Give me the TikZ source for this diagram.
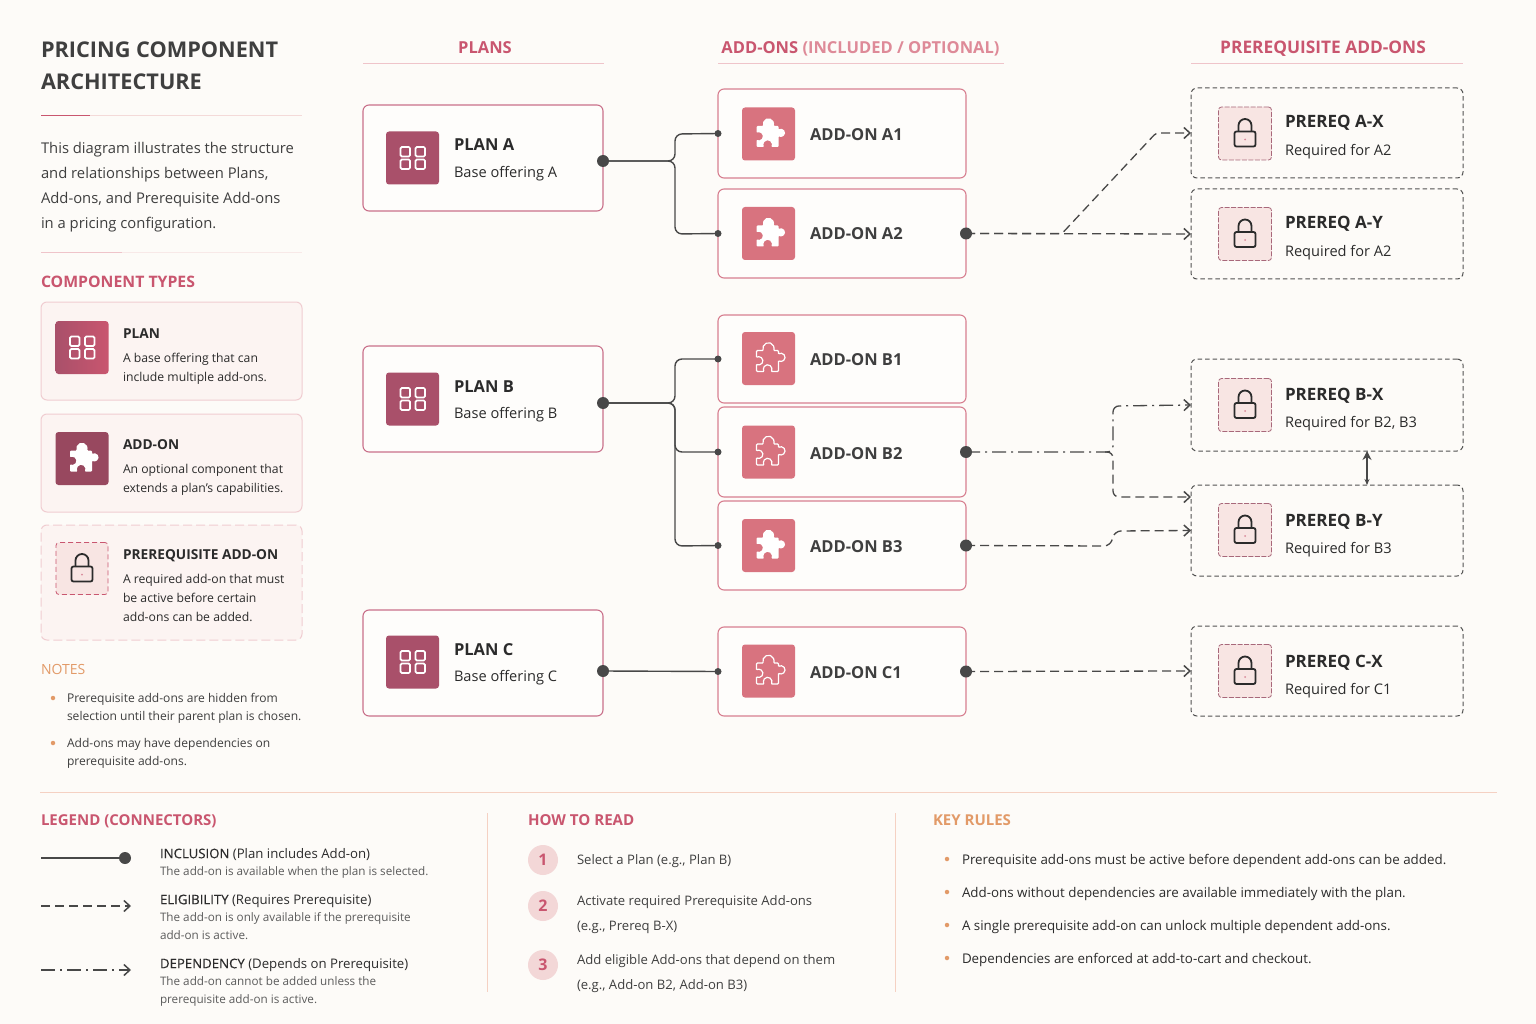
\documentclass[tikz,border=0pt]{standalone}
\usepackage{fontspec}
\setmainfont{Open Sans}
\newfontfamily\medf[FakeBold=0.25]{Open Sans}
\usetikzlibrary{arrows.meta,calc}
\definecolor{bgc}{HTML}{FDFBF8}
\definecolor{rose}{HTML}{C9566F}
\definecolor{roselt}{HTML}{DE8A98}
\definecolor{orangec}{HTML}{E29A68}
\definecolor{ink}{HTML}{2B2B2B}
\definecolor{inkb}{HTML}{3F3F3F}
\definecolor{greyt}{HTML}{5C5C5C}
\definecolor{line}{HTML}{484848}
\definecolor{planb}{HTML}{C9708A}
\definecolor{addb}{HTML}{D77F90}
\definecolor{cardf}{HTML}{FCF4F2}
\definecolor{cardb}{HTML}{F0CDD1}
\definecolor{plani}{HTML}{A9506A}
\definecolor{addi}{HTML}{D8737F}
\definecolor{prei}{HTML}{F8E5E3}
\definecolor{preb}{HTML}{A8687A}
\definecolor{rulelt}{HTML}{F4DAD9}
\definecolor{ruleh}{HTML}{EFC4CA}
\newcommand{\fs}[2]{\fontsize{#1}{#2}\selectfont}
\newcommand{\bx}[6]{\pgfmathsetmacro{\bw}{#5-#3}\pgfmathsetmacro{\bh}{#6-#4}\pgfmathsetmacro{\bcx}{(#5+#3)/2}\pgfmathsetmacro{\bcy}{(#6+#4)/2}\node[#1,minimum width=\bw pt,minimum height=\bh pt] (#2) at (\bcx,\bcy) {};}
\newcommand{\tx}[5]{\node[tbase,#2] (#1) at (#3,#4) {#5};}
\newcommand{\puzzlepath}{(-12,8) -- (-5,8) arc (205:-25:5.5) -- (10,8) -- (10,4.2) arc (130:-130:4) -- (10,-13) -- (2.5,-13) arc (-37:217:4.2) -- (-12,-13) -- (-12,-5.5) arc (-127:127:4) -- cycle}
\tikzset{
 tbase/.style={anchor=west,inner sep=0pt,outer sep=0pt,align=left,yshift=-3pt,execute at begin node=\strut,execute at end node=\strut},
 anybox/.style={rounded corners=6pt,inner sep=0pt,outer sep=0pt},
 planbox/.style={anybox,draw=planb,line width=1.1pt,fill=bgc!60!white},
 addbox/.style={anybox,draw=addb,line width=1.1pt,fill=bgc!60!white},
 prebox/.style={anybox,draw=line!95,line width=1pt,dash pattern=on 4.5pt off 3pt,fill=bgc},
 cardbox/.style={anybox,draw=cardb,line width=1pt,fill=cardf},
 carddash/.style={anybox,draw=cardb,line width=1pt,fill=cardf,dash pattern=on 9pt off 4pt},
 iconplan/.style={rounded corners=3pt,inner sep=0pt,minimum size=53pt,fill=plani},
 iconadd/.style={rounded corners=3pt,inner sep=0pt,minimum size=53pt,fill=addi},
 iconpre/.style={rounded corners=3pt,inner sep=0pt,minimum size=53pt,fill=prei,draw=preb,line width=0.8pt,dash pattern=on 5pt off 1.5pt},
 iconprecard/.style={rounded corners=3pt,inner sep=0pt,minimum size=52pt,fill=prei,draw=rose,line width=0.8pt,dash pattern=on 5pt off 3pt},
 iconsideplan/.style={rounded corners=3pt,inner sep=0pt,minimum size=53pt,left color=plani,right color=rose},
 iconsideadd/.style={rounded corners=3pt,inner sep=0pt,minimum size=53pt,fill=plani!90!black},
 bigdot/.style={circle,fill=line,inner sep=0pt,minimum size=12pt,outer sep=0pt},
 smalldot/.style={circle,fill=line,inner sep=0pt,minimum size=7pt,outer sep=0pt},
 bullo/.style={circle,fill=orangec,inner sep=0pt,minimum size=4.5pt},
 numc/.style={circle,fill=prei!90!rose,inner sep=0pt,minimum size=30pt,text=rose,font=\fs{16}{19}\bfseries},
 incl/.style={draw=line,line width=1.4pt,rounded corners=7pt},
 elig/.style={draw=line,line width=1.3pt,rounded corners=6pt,dash pattern=on 9pt off 5pt,-{Straight Barb[length=6pt,width=11pt,line width=1.5pt]}},
 depd/.style={draw=line,line width=1.3pt,rounded corners=6pt,dash pattern=on 14pt off 5pt on 2pt off 5pt,-{Straight Barb[length=6pt,width=11pt,line width=1.5pt]}},
 ruleln/.style={line width=1pt},
 pics/gridicon/.style={code={\begin{scope}[x=1pt,y=1pt]
  \foreach \a/\b in {-12/1.5,3/1.5,-12/-11,3/-11}{\draw[white,line width=1.7pt,rounded corners=1.3pt] (\a,\b) rectangle ++(9.5,9.5);}
 \end{scope}}},
 pics/puzfill/.style={code={\begin{scope}[x=1pt,y=1pt]\fill[white,rounded corners=1pt] \puzzlepath;\end{scope}}},
 pics/puzline/.style={code={\begin{scope}[x=1pt,y=1pt]\draw[white,line width=1.2pt,rounded corners=1pt] \puzzlepath;\end{scope}}},
 pics/lockicon/.style={code={\begin{scope}[x=1pt,y=1pt]
  \draw[ink,line width=1.8pt] (-6.5,2) -- (-6.5,8) arc (180:0:6.5) -- (6.5,2);
  \draw[ink,line width=1.8pt,rounded corners=2pt] (-10.5,-13) rectangle (10.5,2);
  \fill[rose!70] (0,-6) circle (1pt);
 \end{scope}}},
 head/.style={font=\fs{16.5}{20}\bfseries,text=rose,anchor=center},
 sect/.style={font=\fs{15}{19}\bfseries,text=rose},
 sector/.style={font=\fs{15}{18}\bfseries,text=orangec},
 nameb/.style={font=\fs{17}{20}\bfseries,text=ink},
 subt/.style={font=\fs{14.6}{17},text=ink},
 addn/.style={font=\fs{16.5}{20}\bfseries,text=inkb},
 cardt/.style={font=\fs{13.7}{17}\bfseries,text=ink},
 cardd/.style={font=\fs{12.2}{19},text=ink},
 noted/.style={font=\fs{12.05}{18},text=inkb},
 legt/.style={font=\fs{13.2}{16},text=ink},
 legd/.style={font=\fs{11.7}{18},text=greyt},
 howt/.style={font=\fs{13.1}{25},text=inkb},
 rulet/.style={font=\fs{13.35}{17},text=ink},
}
\begin{document}
\begin{tikzpicture}[x=1pt,y=-1pt]
\useasboundingbox (0,0) rectangle (1536,1024);
\fill[bgc] (0,0) rectangle (1536,1024);
% left panel
\tx{title}{font=\fs{21.7}{32}\bfseries,text=inkb}{41}{67}{PRICING COMPONENT\\ARCHITECTURE}
\coordinate (ra) at (41,115.5); \coordinate (rb) at (90,115.5); \coordinate (rc) at (302,115.5);
\draw[rulelt,ruleln] (rb) -- (rc); \draw[rose,line width=1.4pt] (ra) -- (rb);
\tx{intro}{font=\fs{14.8}{25},text=inkb}{41}{186}{This diagram illustrates the structure\\and relationships between Plans,\\Add-ons, and Prerequisite Add-ons\\in a pricing configuration.}
\coordinate (rd) at (41,252.5); \coordinate (re) at (122,252.5); \coordinate (rf) at (302,252.5);
\draw[rulelt!60,ruleln] (re) -- (rf); \draw[ruleh,ruleln] (rd) -- (re);
\tx{ctypes}{font=\fs{15.8}{19}\bfseries,text=rose}{41}{281}{COMPONENT TYPES}
\bx{cardbox}{cardP}{41}{302}{302}{400}
\bx{cardbox}{cardA}{41}{414}{302}{512}
\bx{carddash}{cardR}{41}{525}{302}{640}
\node[iconsideplan] (icP) at (82,347.5) {}; \pic at (icP) {gridicon};
\node[iconsideadd] (icA) at (82,458.5) {}; \pic at (icA) {puzfill};
\node[iconprecard] (icR) at (82,568.5) {}; \pic at (icR) {lockicon};
\tx{cPt}{cardt}{123}{332}{PLAN}
\tx{cPd}{cardd}{123}{367}{A base offering that can\\include multiple add-ons.}
\tx{cAt}{cardt}{123}{443}{ADD-ON}
\tx{cAd}{cardd}{123}{478}{An optional component that\\extends a plan's capabilities.}
\tx{cRt}{cardt}{123}{553}{PREREQUISITE ADD-ON}
\tx{cRd}{cardd}{123}{598}{A required add-on that must\\be active before certain\\add-ons can be added.}
\tx{notes}{font=\fs{14}{17},text=orangec}{41}{668}{NOTES}
\node[bullo] (nb1) at (53,698) {}; \node[bullo] (nb2) at (53,743) {};
\tx{n1}{noted}{67}{707}{Prerequisite add-ons are hidden from\\selection until their parent plan is chosen.}
\tx{n2}{noted}{67}{752}{Add-ons may have dependencies on\\prerequisite add-ons.}
% column headers
\tx{hP}{head}{485}{47}{PLANS}
\tx{hA}{head}{860.5}{47}{ADD-ONS \textcolor{roselt}{(INCLUDED / OPTIONAL)}}
\tx{hR}{head,font=\fs{17.3}{20}\bfseries}{1323}{47}{PREREQUISITE ADD-ONS}
\coordinate (u1) at (363,64); \coordinate (u2) at (604,64); \coordinate (u3) at (718,64); \coordinate (u4) at (1004,64); \coordinate (u5) at (1191,64); \coordinate (u6) at (1463,64);
\draw[ruleh,ruleln] (u1) -- (u2); \draw[ruleh,ruleln] (u3) -- (u4); \draw[ruleh,ruleln] (u5) -- (u6);
% boxes
\bx{planbox}{planA}{363}{105}{603}{211}
\bx{planbox}{planB}{363}{346}{603}{452}
\bx{planbox}{planC}{363}{610}{603}{716}
\bx{addbox}{addA1}{718}{89}{966}{178}
\bx{addbox}{addA2}{718}{189}{966}{278}
\bx{addbox}{addB1}{718}{315}{966}{403}
\bx{addbox}{addB2}{718}{407}{966}{497}
\bx{addbox}{addB3}{718}{501}{966}{590}
\bx{addbox}{addC1}{718}{627}{966}{716}
\bx{prebox}{preAX}{1191}{88}{1463}{178}
\bx{prebox}{preAY}{1191}{189}{1463}{279}
\bx{prebox}{preBX}{1191}{359}{1463}{451}
\bx{prebox}{preBY}{1191}{485}{1463}{576}
\bx{prebox}{preCX}{1191}{626}{1463}{716}
% plan content
\node[iconplan] (iPA) at (412.5,158) {}; \pic at (iPA) {gridicon};
\node[iconplan] (iPB) at (412.5,399) {}; \pic at (iPB) {gridicon};
\node[iconplan] (iPC) at (412.5,662) {}; \pic at (iPC) {gridicon};
\tx{tPA}{nameb,font=\fs{16.5}{20}\bfseries}{454}{144}{PLAN A}\tx{sPA}{subt}{454}{171}{Base offering A}
\tx{tPB}{nameb,font=\fs{16.5}{20}\bfseries}{454}{385}{PLAN B}\tx{sPB}{subt}{454}{412}{Base offering B}
\tx{tPC}{nameb,font=\fs{16.5}{20}\bfseries}{454}{648}{PLAN C}\tx{sPC}{subt}{454}{675}{Base offering C}
% add-on content
\node[iconadd] (iA1) at (768.5,134) {}; \pic at (iA1) {puzfill};
\node[iconadd] (iA2) at (768.5,233.5) {}; \pic at (iA2) {puzfill};
\node[iconadd] (iB1) at (768.5,358.5) {}; \pic at (iB1) {puzline};
\node[iconadd] (iB2) at (768.5,452) {}; \pic at (iB2) {puzline};
\node[iconadd] (iB3) at (768.5,545.5) {}; \pic at (iB3) {puzfill};
\node[iconadd] (iC1) at (768.5,671) {}; \pic at (iC1) {puzline};
\tx{tA1}{addn}{810}{133.5}{ADD-ON A1}
\tx{tA2}{addn}{810}{233}{ADD-ON A2}
\tx{tB1}{addn}{810}{358}{ADD-ON B1}
\tx{tB2}{addn}{810}{452}{ADD-ON B2}
\tx{tB3}{addn}{810}{545.5}{ADD-ON B3}
\tx{tC1}{addn}{810}{671}{ADD-ON C1}
% prereq content
\node[iconpre] (iAX) at (1245,133.5) {}; \pic at (iAX) {lockicon};
\node[iconpre] (iAY) at (1245,234) {}; \pic at (iAY) {lockicon};
\node[iconpre] (iBX) at (1245,405) {}; \pic at (iBX) {lockicon};
\node[iconpre] (iBY) at (1245,530) {}; \pic at (iBY) {lockicon};
\node[iconpre] (iCX) at (1245,671) {}; \pic at (iCX) {lockicon};
\tx{tAX}{nameb}{1285}{121}{PREREQ A-X}\tx{sAX}{subt}{1285}{149}{Required for A2}
\tx{tAY}{nameb}{1285}{222}{PREREQ A-Y}\tx{sAY}{subt}{1285}{250}{Required for A2}
\tx{tBX}{nameb}{1285}{393}{PREREQ B-X}\tx{sBX}{subt}{1285}{421}{Required for B2, B3}
\tx{tBY}{nameb}{1285}{519}{PREREQ B-Y}\tx{sBY}{subt}{1285}{547}{Required for B3}
\tx{tCX}{nameb}{1285}{660}{PREREQ C-X}\tx{sCX}{subt}{1285}{688}{Required for C1}
% dots
\node[bigdot] (dPA) at ([yshift=-3pt]planA.east) {};
\node[bigdot] (dPB) at ([yshift=-4pt]planB.east) {};
\node[bigdot] (dPC) at ([yshift=-8pt]planC.east) {};
\node[smalldot] (dA1) at (addA1.west) {};
\node[smalldot] (dA2) at (addA2.west) {};
\node[smalldot] (dB1) at (addB1.west) {};
\node[smalldot] (dB2) at (addB2.west) {};
\node[smalldot] (dB3) at (addB3.west) {};
\node[smalldot] (dC1) at (addC1.west) {};
\node[bigdot] (eA2) at (addA2.east) {};
\node[bigdot] (eB2) at (addB2.east) {};
\node[bigdot] (eB3) at (addB3.east) {};
\node[bigdot] (eC1) at (addC1.east) {};
% inclusion connectors
\coordinate (cAt) at (675,134); \coordinate (cAm) at (675,161); \coordinate (cAb) at (675,234);
\draw[incl] (dPA.center) -- (cAm) -- (cAt) -- (dA1.center);
\draw[incl] (dPA.center) -- (cAm) -- (cAb) -- (dA2.center);
\draw[incl] (dPB.center) -- (675,403) -- (675,359) -- (dB1.center);
\draw[incl] (dPB.center) -- (675,403) -- (675,452) -- (dB2.center);
\draw[incl] (dPB.center) -- (675,403) -- (675,546) -- (dB3.center);
\draw[incl] (dPC.center) -- (dC1.center);
% eligibility and dependency connectors
\draw[elig,rounded corners=3pt] (eA2.center) -- (1062,233.5) -- (1156,133) -- (preAX.west);
\draw[elig] (eA2.center) -- (preAY.west);
\draw[depd] (eB2.center) -- (1113,452) -- (1113,406) -- (preBX.west);
\draw[elig] (1105,452) -- (1113,452) -- (1113,497) -- (preBY.west |- 0,497);
\draw[elig] (eB3.center) -- (1110,546) -- (1115,531) -- (preBY.west);
\draw[elig] (eC1.center) -- (preCX.west);
\draw[draw=line,line width=1.3pt,{Stealth[length=6pt,width=5pt]}-{Stealth[length=9pt,width=9pt]}] ([xshift=40pt]preBY.north) -- ([xshift=40pt]preBX.south);
% bottom
\coordinate (dv1) at (40,792); \coordinate (dv2) at (1497,792);
\draw[rulelt!90!orange,ruleln] (dv1) -- (dv2);
\coordinate (v1) at (487,813); \coordinate (v2) at (487,992); \coordinate (v3) at (895,813); \coordinate (v4) at (895,992);
\draw[rulelt!90!orange,ruleln] (v1) -- (v2); \draw[rulelt!90!orange,ruleln] (v3) -- (v4);
\tx{lgH}{sect}{41}{819}{LEGEND (CONNECTORS)}
\tx{hrH}{sect,font=\fs{15.1}{19}\bfseries}{528}{819}{HOW TO READ}
\tx{krH}{sector}{933}{819}{KEY RULES}
% legend lines
\coordinate (l1a) at (41,858); \node[bigdot] (l1b) at (125,858) {};
\coordinate (l2a) at (41,906); \coordinate (l2b) at (131,906);
\coordinate (l3a) at (41,970); \coordinate (l3b) at (131,970);
\draw[incl] (l1a) -- (l1b);
\draw[elig] (l2a) -- (l2b);
\draw[depd] (l3a) -- (l3b);
\tx{i1}{legt}{160}{852}{{\medf INCLUSION} (Plan includes Add-on)}
\tx{i2}{legd}{160}{869}{The add-on is available when the plan is selected.}
\tx{e1}{legt}{160}{898}{{\medf ELIGIBILITY} (Requires Prerequisite)}
\tx{e2}{legd}{160}{926}{The add-on is only available if the prerequisite\\add-on is active.}
\tx{d1}{legt}{160}{962}{{\medf DEPENDENCY} (Depends on Prerequisite)}
\tx{d2}{legd}{160}{990}{The add-on cannot be added unless the\\prerequisite add-on is active.}
% how to read
\node[numc] (st1) at (543,860) {1};
\node[numc] (st2) at (543,906) {2};
\node[numc] (st3) at (543,965) {3};
\tx{h1}{howt}{577}{856}{Select a Plan (e.g., Plan B)}
\tx{h2}{howt}{577}{914}{Activate required Prerequisite Add-ons\\(e.g., Prereq B-X)}
\tx{h3}{howt}{577}{973}{Add eligible Add-ons that depend on them\\(e.g., Add-on B2, Add-on B3)}
% key rules
\node[bullo] (k1) at (947,859) {}; \node[bullo] (k2) at (947,892) {}; \node[bullo] (k3) at (947,925) {}; \node[bullo] (k4) at (947,958) {};
\tx{r1}{rulet}{962}{858.5}{Prerequisite add-ons must be active before dependent add-ons can be added.}
\tx{r2}{rulet}{962}{891.5}{Add-ons without dependencies are available immediately with the plan.}
\tx{r3}{rulet}{962}{924.5}{A single prerequisite add-on can unlock multiple dependent add-ons.}
\tx{r4}{rulet}{962}{957.5}{Dependencies are enforced at add-to-cart and checkout.}
\end{tikzpicture}
\end{document}
